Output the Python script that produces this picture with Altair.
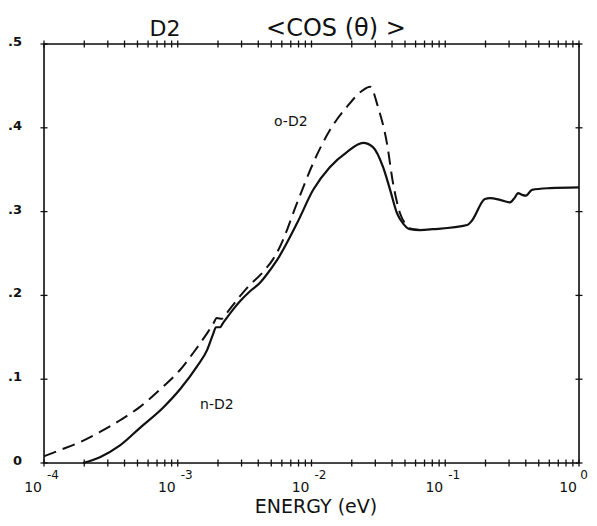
import altair as alt
import pandas as pd

# ---- data ----
n_energy = [1.96e-4, 2.62e-4, 3.70e-4, 5.22e-4, 7.76e-4, 1.04e-3, 1.39e-3, 1.66e-3,
            1.84e-3, 1.93e-3, 2.07e-3, 2.18e-3, 2.68e-3, 2.92e-3, 3.47e-3, 4.12e-3,
            4.48e-3, 5.52e-3, 7.79e-3, 1.03e-2, 1.37e-2, 1.84e-2, 2.43e-2, 2.88e-2,
            3.43e-2, 3.87e-2, 4.36e-2, 4.83e-2, 5.45e-2, 6.47e-2, 8.09e-2, 0.146,
            0.158, 0.198, 0.216, 0.257, 0.305, 0.332, 0.350, 0.375, 0.402, 0.445,
            0.607, 1.0]
n_cos = [0.0, 0.007, 0.021, 0.042, 0.066, 0.088, 0.115, 0.135,
         0.154, 0.162, 0.162, 0.167, 0.186, 0.193, 0.205, 0.215,
         0.222, 0.242, 0.286, 0.326, 0.353, 0.371, 0.382, 0.377,
         0.353, 0.326, 0.298, 0.286, 0.279, 0.278, 0.279, 0.284,
         0.289, 0.315, 0.316, 0.314, 0.311, 0.317, 0.322, 0.320, 0.319, 0.326,
         0.328, 0.329]

o_energy = [1.0e-4, 1.32e-4, 1.86e-4, 2.62e-4, 3.70e-4, 5.22e-4, 7.76e-4, 1.04e-3,
            1.30e-3, 1.66e-3, 1.84e-3, 1.96e-3, 2.14e-3, 2.30e-3, 2.92e-3, 3.30e-3,
            4.34e-3, 5.15e-3, 5.81e-3, 7.79e-3, 1.03e-2, 1.37e-2, 1.84e-2, 2.43e-2,
            2.74e-2, 3.14e-2, 3.66e-2, 4.07e-2, 4.59e-2, 5.00e-2, 5.45e-2, 6.47e-2]
o_cos = [0.008, 0.0155, 0.025, 0.037, 0.051, 0.067, 0.091, 0.111,
         0.131, 0.155, 0.166, 0.173, 0.172, 0.178, 0.199, 0.209,
         0.228, 0.243, 0.258, 0.310, 0.358, 0.397, 0.425, 0.445,
         0.449, 0.425, 0.382, 0.334, 0.298, 0.286, 0.280, 0.278]

x_minor_ticks = [m * 10.0 ** e for e in (-4, -3, -2, -1) for m in range(1, 10)] + [1.0]
y_ticks = [0.0, 0.1, 0.2, 0.3, 0.4, 0.5]
y_tick_labels = ["0", ".1", ".2", ".3", ".4", ".5"]
x_decades = [1e-4, 1e-3, 1e-2, 1e-1]
x_exponents = ["-4", "-3", "-2", "-1"]
x_last_decade = [1.0]
x_last_exponent = ["0"]

label_text = ["o-D2", "n-D2"]
label_energy = [7.0e-3, 1.96e-3]
label_cos = [0.407, 0.069]

title_left = "D2"
title_right = "<COS (θ) >"
x_title = "ENERGY  (eV)"

# ---- layout ----
W, H = 535, 419
FONT = "DejaVu Sans"
INK = "#111111"

xs = alt.Scale(type="log", domain=[1e-4, 1.0], nice=False)
ys = alt.Scale(domain=[0, 0.5], nice=False, zero=False)

solid = alt.Chart(pd.DataFrame({"E": n_energy, "c": n_cos})).mark_line(
    color=INK, strokeWidth=2.2, interpolate="monotone"
).encode(x=alt.X("E:Q", scale=xs, axis=None), y=alt.Y("c:Q", scale=ys, axis=None))

dashed = alt.Chart(pd.DataFrame({"E": o_energy, "c": o_cos})).mark_line(
    color=INK, strokeWidth=2.0, strokeDash=[13, 7], interpolate="monotone"
).encode(x=alt.X("E:Q", scale=xs, axis=None), y=alt.Y("c:Q", scale=ys, axis=None))

one = pd.DataFrame({"a": [0]})
frame = alt.Chart(one).mark_rect(fill=None, stroke=INK, strokeWidth=1.6).encode(
    x=alt.value(0), x2=alt.value(W), y=alt.value(0), y2=alt.value(H))

xt = pd.DataFrame({"t": x_minor_ticks})
bottom_ticks = alt.Chart(xt).mark_rule(color=INK, strokeWidth=1.3).encode(
    x=alt.X("t:Q", scale=xs, axis=None), y=alt.value(H - 3.5), y2=alt.value(H + 3.5))
top_ticks = alt.Chart(xt).mark_rule(color=INK, strokeWidth=1.3).encode(
    x=alt.X("t:Q", scale=xs, axis=None), y=alt.value(-3.5), y2=alt.value(3.5))

yt = pd.DataFrame({"t": y_ticks, "lab": y_tick_labels})
left_ticks = alt.Chart(yt).mark_rule(color=INK, strokeWidth=1.3).encode(
    y=alt.Y("t:Q", scale=ys, axis=None), x=alt.value(-3.5), x2=alt.value(3.5))
right_ticks = alt.Chart(yt).mark_rule(color=INK, strokeWidth=1.3).encode(
    y=alt.Y("t:Q", scale=ys, axis=None), x=alt.value(W - 3.5), x2=alt.value(W + 3.5))
y_labels = alt.Chart(yt).mark_text(
    align="right", baseline="middle", dy=-2, font=FONT, fontSize=13, fontWeight="bold", color=INK
).encode(y=alt.Y("t:Q", scale=ys, axis=None), x=alt.value(-22), text="lab:N")

xd = pd.DataFrame({"t": x_decades + x_last_decade,
                   "base": ["10"] * (len(x_decades) + len(x_last_decade))})
x_base = alt.Chart(xd).mark_text(
    align="right", baseline="alphabetic", dx=-2, font=FONT, fontSize=14, color=INK
).encode(x=alt.X("t:Q", scale=xs, axis=None), y=alt.value(H + 29), text="base:N")
x_exp = alt.Chart(pd.DataFrame({"t": x_decades, "ex": x_exponents})).mark_text(
    align="right", baseline="alphabetic", dx=15, font=FONT, fontSize=12, color=INK
).encode(x=alt.X("t:Q", scale=xs, axis=None), y=alt.value(H + 16), text="ex:N")
x_exp_last = alt.Chart(pd.DataFrame({"t": x_last_decade, "ex": x_last_exponent})).mark_text(
    align="right", baseline="alphabetic", dx=9, font=FONT, fontSize=12, color=INK
).encode(x=alt.X("t:Q", scale=xs, axis=None), y=alt.value(H + 16), text="ex:N")

labs = pd.DataFrame({"E": label_energy, "c": label_cos, "t": label_text})
curve_labels = alt.Chart(labs).mark_text(
    align="center", baseline="middle", font=FONT, fontSize=14, color=INK
).encode(x=alt.X("E:Q", scale=xs, axis=None), y=alt.Y("c:Q", scale=ys, axis=None), text="t:N")

t1 = alt.Chart(one).mark_text(
    align="center", baseline="alphabetic", font=FONT, fontSize=22, color=INK, text=title_left
).encode(x=alt.value(121), y=alt.value(-8))
t2 = alt.Chart(one).mark_text(
    align="center", baseline="alphabetic", font=FONT, fontSize=24, color=INK, text=title_right
).encode(x=alt.value(292), y=alt.value(-8))
t3 = alt.Chart(one).mark_text(
    align="center", baseline="alphabetic", font=FONT, fontSize=19, color=INK, text=x_title
).encode(x=alt.value(272), y=alt.value(H + 50))

chart = alt.layer(
    dashed, solid, frame, bottom_ticks, top_ticks, left_ticks, right_ticks,
    y_labels, x_base, x_exp, x_exp_last, curve_labels, t1, t2, t3
).properties(
    width=W, height=H,
    autosize=alt.AutoSizeParams(type="none"),
    padding={"left": 36, "top": 36, "right": 10, "bottom": 55},
).configure_view(stroke=None).configure(background="white")

chart.save("out.html", embed_options={"renderer": "svg", "actions": False})
